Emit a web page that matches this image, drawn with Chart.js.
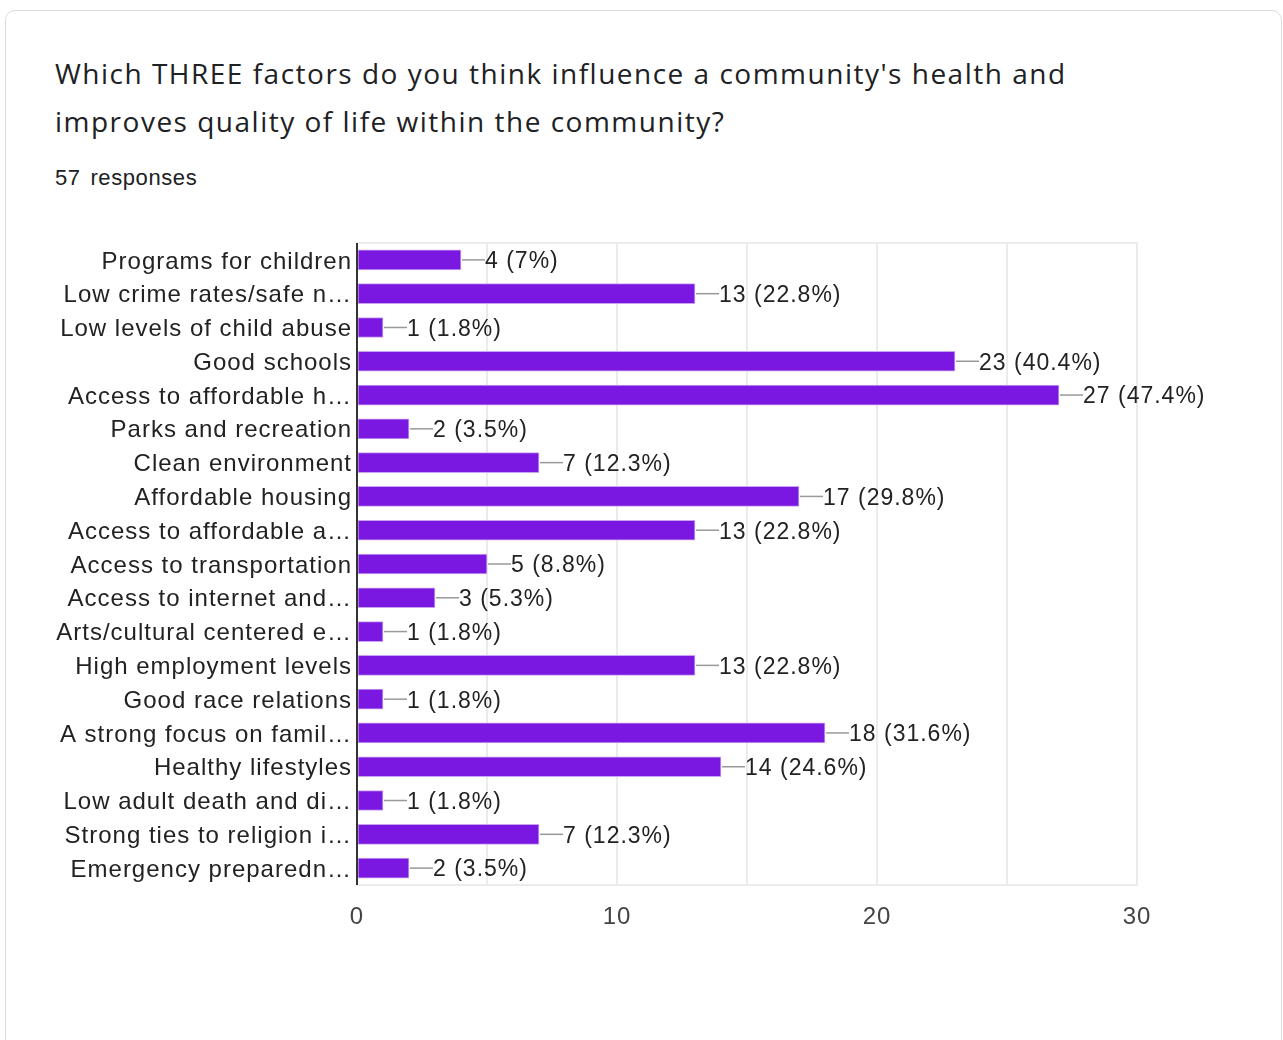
<!DOCTYPE html>
<html>
<head>
<meta charset="utf-8">
<script src="https://cdn.jsdelivr.net/npm/chart.js@4/dist/chart.umd.min.js"></script>
<style>
  body { margin: 0; background: #fff; width: 1283px; height: 1040px; overflow: hidden; position: relative; }
  .card { position: absolute; left: 5px; top: 10px; width: 1275px; height: 1100px; border: 1px solid #dadce0; border-radius: 10px; }
  .title { position: absolute; left: 55px; top: 49px; width: 1060px; font-family: "Open Sans", sans-serif; font-size: 28px; line-height: 48px; letter-spacing: 1.5px; color: #202124; }
  .sub { position: absolute; left: 55px; top: 165px; font-family: "Liberation Sans", Arial, sans-serif; font-size: 22px; letter-spacing: 0.6px; word-spacing: 3px; color: #202124; }
  #chart { position: absolute; left: 0; top: 0; }
</style>
</head>
<body>
<div class="card"></div>
<div class="title">Which THREE factors do you think influence a community's health and improves quality of life within the community?</div>
<div class="sub">57 responses</div>
<canvas id="chart" width="1283" height="1040"></canvas>
<script>
// categories as shown (long ones are cut off in the original)
const categories = [
  "Programs for children",
  "Low crime rates/safe n\u2026",
  "Low levels of child abuse",
  "Good schools",
  "Access to affordable h\u2026",
  "Parks and recreation",
  "Clean environment",
  "Affordable housing",
  "Access to affordable a\u2026",
  "Access to transportation",
  "Access to internet and\u2026",
  "Arts/cultural centered e\u2026",
  "High employment levels",
  "Good race relations",
  "A strong focus on famil\u2026",
  "Healthy lifestyles",
  "Low adult death and di\u2026",
  "Strong ties to religion i\u2026",
  "Emergency preparedn\u2026"
];
const counts = [4, 13, 1, 23, 27, 2, 7, 17, 13, 5, 3, 1, 13, 1, 18, 14, 1, 7, 2];
const percents = ["7%", "22.8%", "1.8%", "40.4%", "47.4%", "3.5%", "12.3%", "29.8%", "22.8%", "8.8%",
                  "5.3%", "1.8%", "22.8%", "1.8%", "31.6%", "24.6%", "1.8%", "12.3%", "3.5%"];
const xTicks = [0, 10, 20, 30];

const FONT = "'Liberation Sans', Arial, sans-serif";

// the original text is drawn a little wide, so add some spacing to all canvas text
const spacing = {
  id: 'spacing',
  beforeDraw(chart) { chart.ctx.letterSpacing = '1px'; },
  afterDraw(chart) { chart.ctx.letterSpacing = '0px'; }
};

// light frame around the plot area, dark line at zero
const frame = {
  id: 'frame',
  beforeDatasetsDraw(chart) {
    const a = chart.chartArea, ctx = chart.ctx;
    ctx.save();
    ctx.strokeStyle = '#ebebeb';
    ctx.lineWidth = 2;
    ctx.strokeRect(a.left, a.top, a.right - a.left, a.bottom - a.top);
    ctx.restore();
  },
  afterDatasetsDraw(chart) {
    const a = chart.chartArea, ctx = chart.ctx;
    ctx.save();
    ctx.strokeStyle = '#333';
    ctx.lineWidth = 2;
    ctx.beginPath();
    ctx.moveTo(a.left, a.top);
    ctx.lineTo(a.left, a.bottom);
    ctx.stroke();
    ctx.restore();
  }
};

// leader line + "n (p%)" after each bar
const valueLabels = {
  id: 'valueLabels',
  afterDatasetsDraw(chart) {
    const ctx = chart.ctx;
    const meta = chart.getDatasetMeta(0);
    ctx.save();
    ctx.font = '23px ' + FONT;
    ctx.textBaseline = 'middle';
    meta.data.forEach((bar, i) => {
      const x = bar.x, y = bar.y;
      ctx.strokeStyle = '#999';
      ctx.lineWidth = 1.5;
      ctx.beginPath();
      ctx.moveTo(x + 1, y);
      ctx.lineTo(x + 24, y);
      ctx.stroke();
      ctx.fillStyle = '#222';
      ctx.fillText(counts[i] + ' (' + percents[i] + ')', x + 24, y + 2);
    });
    ctx.restore();
  }
};

new Chart(document.getElementById('chart'), {
  type: 'bar',
  data: {
    labels: categories,
    datasets: [{
      data: counts,
      backgroundColor: '#7a17e0',
      borderColor: '#c9a4f2',
      borderWidth: 1,
      borderSkipped: false,
      barThickness: 20
    }]
  },
  options: {
    indexAxis: 'y',
    responsive: false,
    animation: false,
    events: [],
    layout: { padding: { top: 243, bottom: 100, left: 0, right: 146 } },
    plugins: { legend: { display: false }, tooltip: { enabled: false } },
    scales: {
      x: {
        min: 0,
        max: 30,
        afterFit(s) { s.height = 55; },
        afterBuildTicks(s) { s.ticks = [0, 5, 10, 15, 20, 25, 30].map(v => ({ value: v })); },
        grid: { color: '#ebebeb', lineWidth: 2, drawTicks: false },
        border: { display: false },
        ticks: {
          padding: 18,
          color: '#444',
          font: { family: FONT, size: 24 },
          callback: v => xTicks.includes(v) ? String(v) : ''
        }
      },
      y: {
        afterFit(s) { s.width = 357; },
        grid: { display: false, drawTicks: false },
        border: { display: false },
        ticks: {
          padding: 5,
          labelOffset: 2,
          color: '#222',
          autoSkip: false,
          font: { family: FONT, size: 24 }
        }
      }
    }
  },
  plugins: [spacing, frame, valueLabels]
});
</script>
</body>
</html>
